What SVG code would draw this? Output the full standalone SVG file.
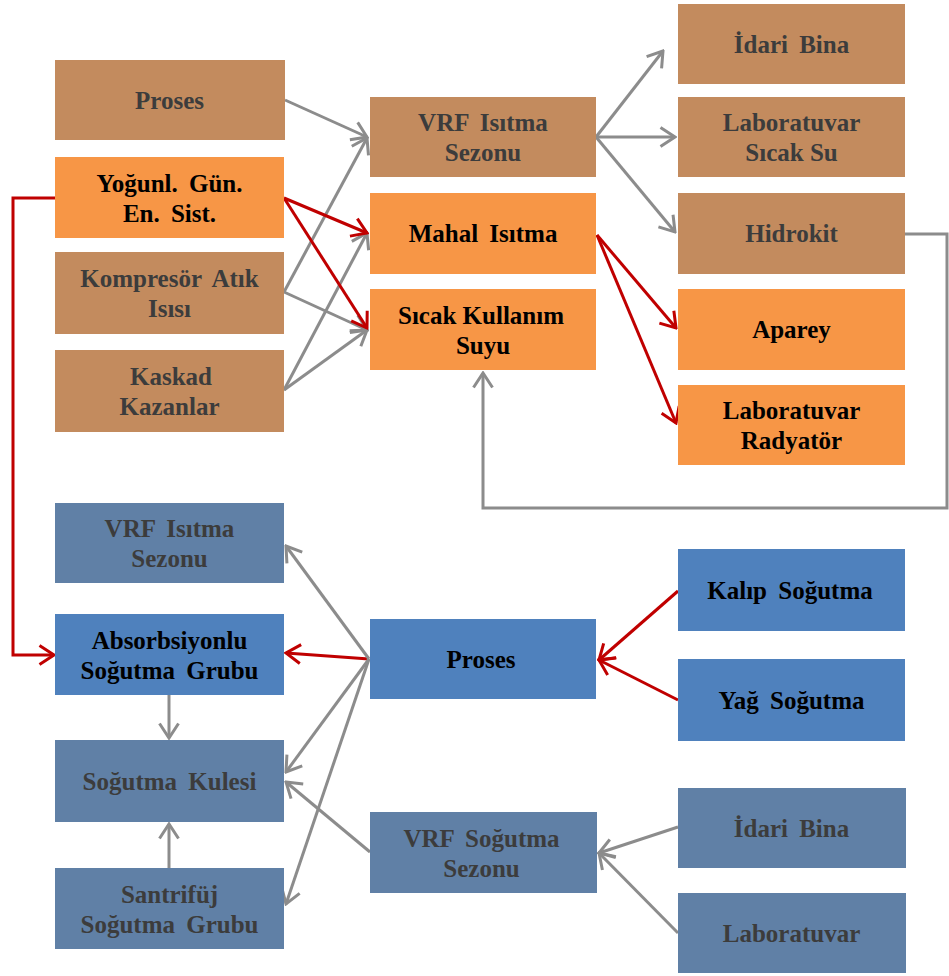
<svg xmlns="http://www.w3.org/2000/svg" width="949" height="976" viewBox="0 0 949 976">
<style>
text{font-family:"Liberation Serif","Times New Roman",serif;font-weight:bold;font-size:25px;text-anchor:middle}
.ws{word-spacing:5px}
.brown{fill:#C38B5E}
.orange{fill:#F79646}
.blue{fill:#4F81BD}
.gblue{fill:#6080A6}
.mt{fill:#3C3C3C}
.at{fill:#000}
.g{fill:none;stroke:#8C8C8C;stroke-width:3;marker-end:url(#ag)}
.r{fill:none;stroke:#C00000;stroke-width:3;marker-end:url(#ar)}
</style>
<defs>
<marker id="ag" viewBox="0 0 18 22" refX="16" refY="11" markerWidth="18" markerHeight="22" markerUnits="userSpaceOnUse" orient="auto">
<path d="M1.5,1.5 L16,11 L1.5,20.5" fill="none" stroke="#8C8C8C" stroke-width="3"/>
</marker>
<marker id="ar" viewBox="0 0 18 22" refX="16" refY="11" markerWidth="18" markerHeight="22" markerUnits="userSpaceOnUse" orient="auto">
<path d="M1.5,1.5 L16,11 L1.5,20.5" fill="none" stroke="#C00000" stroke-width="3"/>
</marker>
</defs>
<rect width="949" height="976" fill="#fff"/>

<g id="connectors">
<line class="g" x1="285" y1="100" x2="367" y2="137"/>
<line class="g" x1="284" y1="292" x2="367" y2="138"/>
<line class="g" x1="284" y1="292" x2="367" y2="330"/>
<line class="g" x1="284" y1="390" x2="367" y2="233"/>
<line class="g" x1="284" y1="390" x2="367" y2="330"/>
<line class="r" x1="284" y1="198" x2="367" y2="233"/>
<line class="r" x1="284" y1="198" x2="367" y2="328"/>
<line class="g" x1="596" y1="137" x2="663" y2="51"/>
<line class="g" x1="596" y1="137" x2="675" y2="137"/>
<line class="g" x1="596" y1="137" x2="675" y2="232"/>
<line class="r" x1="597" y1="235" x2="676" y2="328"/>
<line class="r" x1="597" y1="235" x2="676" y2="423"/>
<polyline class="g" points="905,234 947,234 947,508 483,508 483,373"/>
<polyline class="r" points="55,198 13,198 13,655 54,655"/>
<line class="r" x1="369" y1="659" x2="286" y2="653"/>
<line class="g" x1="369" y1="659" x2="286" y2="546"/>
<line class="g" x1="369" y1="659" x2="286" y2="772"/>
<line class="g" x1="369" y1="659" x2="286" y2="904"/>
<line class="g" x1="370" y1="852" x2="286" y2="782"/>
<line class="g" x1="169" y1="695" x2="169" y2="738"/>
<line class="g" x1="169" y1="868" x2="169" y2="824"/>
<line class="r" x1="678" y1="591" x2="599" y2="660"/>
<line class="r" x1="678" y1="700" x2="599" y2="660"/>
<line class="g" x1="678" y1="827" x2="599" y2="853"/>
<line class="g" x1="678" y1="933" x2="599" y2="853"/>
</g>

<g id="n-proses-top"><rect class="brown" x="55" y="60" width="230" height="80"/><text class="mt" x="169.5" y="108.5">Proses</text></g>
<g id="n-yogunl"><rect class="orange" x="55" y="157" width="229" height="81"/><text class="at ws" x="169.5" y="192">Yoğunl. Gün.</text><text class="at ws" x="169.5" y="222">En. Sist.</text></g>
<g id="n-kompresor"><rect class="brown" x="55" y="252" width="229" height="82"/><text class="mt ws" x="169.5" y="287">Kompresör Atık</text><text class="mt" x="169.5" y="317">Isısı</text></g>
<g id="n-kaskad"><rect class="brown" x="55" y="350" width="229" height="82"/><text class="mt" x="171" y="385">Kaskad</text><text class="mt" x="169.5" y="415">Kazanlar</text></g>

<g id="n-vrf-isitma-top"><rect class="brown" x="370" y="97" width="226" height="80"/><text class="mt ws" x="483" y="131">VRF Isıtma</text><text class="mt" x="483" y="161">Sezonu</text></g>
<g id="n-mahal"><rect class="orange" x="370" y="193" width="226" height="81"/><text class="at ws" x="483" y="242">Mahal Isıtma</text></g>
<g id="n-sicak"><rect class="orange" x="370" y="289" width="226" height="81"/><text class="at" x="481" y="323.5">Sıcak Kullanım</text><text class="at" x="483" y="353.5">Suyu</text></g>

<g id="n-idari-top"><rect class="brown" x="678" y="4" width="227" height="80"/><text class="mt ws" x="791.5" y="52.5">İdari Bina</text></g>
<g id="n-lab-sicak"><rect class="brown" x="678" y="97" width="227" height="80"/><text class="mt" x="791.5" y="131">Laboratuvar</text><text class="mt" x="791.5" y="161">Sıcak Su</text></g>
<g id="n-hidrokit"><rect class="brown" x="678" y="193" width="227" height="81"/><text class="mt" x="791.5" y="242">Hidrokit</text></g>
<g id="n-aparey"><rect class="orange" x="678" y="289" width="227" height="81"/><text class="at" x="791.5" y="338">Aparey</text></g>
<g id="n-lab-radyator"><rect class="orange" x="678" y="385" width="227" height="80"/><text class="at" x="791.5" y="419">Laboratuvar</text><text class="at" x="791.5" y="449">Radyatör</text></g>

<g id="n-vrf-isitma-bot"><rect class="gblue" x="55" y="503" width="229" height="80"/><text class="mt ws" x="169.5" y="537">VRF Isıtma</text><text class="mt" x="169.5" y="567">Sezonu</text></g>
<g id="n-absorbsiyonlu"><rect class="blue" x="55" y="614" width="229" height="81"/><text class="at" x="169.5" y="648.5">Absorbsiyonlu</text><text class="at ws" x="169.5" y="678.5">Soğutma Grubu</text></g>
<g id="n-kule"><rect class="gblue" x="55" y="740" width="229" height="82"/><text class="mt ws" x="169.5" y="789.5">Soğutma Kulesi</text></g>
<g id="n-santrifuj"><rect class="gblue" x="55" y="868" width="229" height="81"/><text class="mt" x="169.5" y="902.5">Santrifüj</text><text class="mt ws" x="169.5" y="932.5">Soğutma Grubu</text></g>

<g id="n-proses-bot"><rect class="blue" x="370" y="619" width="226" height="80"/><text class="at" x="481" y="667.5">Proses</text></g>
<g id="n-vrf-sogutma"><rect class="gblue" x="370" y="812" width="227" height="81"/><text class="mt ws" x="481.5" y="846.5">VRF Soğutma</text><text class="mt" x="481.5" y="876.5">Sezonu</text></g>

<g id="n-kalip"><rect class="blue" x="678" y="549" width="227" height="82"/><text class="at ws" x="790" y="598.5">Kalıp Soğutma</text></g>
<g id="n-yag"><rect class="blue" x="678" y="659" width="227" height="82"/><text class="at ws" x="791.5" y="708.5">Yağ Soğutma</text></g>
<g id="n-idari-bot"><rect class="gblue" x="678" y="788" width="228" height="80"/><text class="mt ws" x="791.5" y="836.5">İdari Bina</text></g>
<g id="n-laboratuvar"><rect class="gblue" x="678" y="893" width="228" height="80"/><text class="mt" x="791.5" y="941.5">Laboratuvar</text></g>
</svg>
